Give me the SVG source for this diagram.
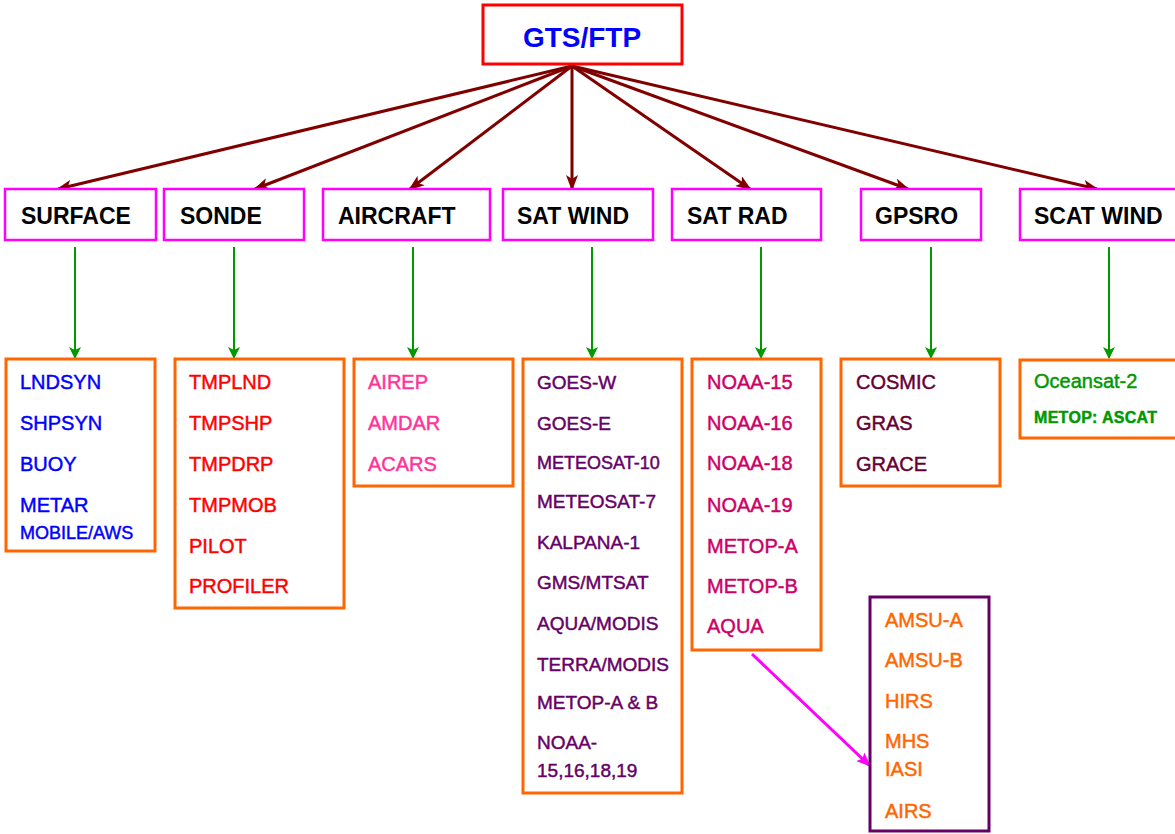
<svg xmlns="http://www.w3.org/2000/svg" width="1175" height="834" viewBox="0 0 1175 834">
<style>
text{font-family:"Liberation Sans",Arial,sans-serif}
.cat{fill:#fff;stroke:#FF00FF;stroke-width:2.5}
.lst{fill:#fff;stroke:#FF6600;stroke-width:3}
.ct{font-size:23px;font-weight:bold;fill:#000}
.it{font-size:20px}
.dr{stroke:#800000;stroke-width:3;fill:none;marker-end:url(#mr)}
.gr{stroke:#009900;stroke-width:2;fill:none;marker-end:url(#mg)}
.mg{stroke:#FF00FF;stroke-width:3;fill:none;marker-end:url(#mm)}
g.l text{stroke-width:0.45}
</style>
<defs>
<marker id="mr" markerUnits="userSpaceOnUse" markerWidth="16" markerHeight="12" refX="14" refY="6" orient="auto"><path d="M0,0 L16,6 L0,12 L4,6 Z" fill="#800000"/></marker>
<marker id="mg" markerUnits="userSpaceOnUse" markerWidth="12" markerHeight="12" refX="11" refY="6" orient="auto"><path d="M0,0 L12,6 L0,12 L3,6 Z" fill="#009900"/></marker>
<marker id="mm" markerUnits="userSpaceOnUse" markerWidth="14" markerHeight="12" refX="12" refY="6" orient="auto"><path d="M0,0 L14,6 L0,12 L3,6 Z" fill="#FF00FF"/></marker>
</defs>
<rect width="1175" height="834" fill="#fff"/>
<g id="connectors">
<line class="dr" x1="572" y1="66" x2="58" y2="189"/>
<line class="dr" x1="572" y1="66" x2="255" y2="189"/>
<line class="dr" x1="572" y1="66" x2="410" y2="189"/>
<line class="dr" x1="572" y1="66" x2="572" y2="189"/>
<line class="dr" x1="572" y1="66" x2="750" y2="189"/>
<line class="dr" x1="572" y1="66" x2="908" y2="189"/>
<line class="dr" x1="572" y1="66" x2="1097" y2="189"/>
<line class="gr" x1="75" y1="247" x2="75" y2="358"/>
<line class="gr" x1="234" y1="247" x2="234" y2="358"/>
<line class="gr" x1="413" y1="247" x2="413" y2="358"/>
<line class="gr" x1="592" y1="247" x2="592" y2="358"/>
<line class="gr" x1="761" y1="247" x2="761" y2="358"/>
<line class="gr" x1="931" y1="247" x2="931" y2="358"/>
<line class="gr" x1="1109" y1="247" x2="1109" y2="358"/>
<line class="mg" x1="752" y1="654" x2="869" y2="765"/>
</g>
<g id="gts">
<rect x="483" y="5" width="199" height="59" fill="#fff" stroke="#FF0000" stroke-width="3"/>
<text x="582" y="47" text-anchor="middle" font-size="28" font-weight="bold" fill="#0000FF">GTS/FTP</text>
</g>
<g id="surface"><rect class="cat" x="5" y="189" width="151" height="51"/><text class="ct" x="21" y="224">SURFACE</text></g>
<g id="sonde"><rect class="cat" x="164" y="189" width="140" height="51"/><text class="ct" x="180" y="224">SONDE</text></g>
<g id="aircraft"><rect class="cat" x="323" y="189" width="167" height="51"/><text class="ct" x="338" y="224">AIRCRAFT</text></g>
<g id="satwind"><rect class="cat" x="503" y="189" width="150" height="51"/><text class="ct" x="517" y="224">SAT WIND</text></g>
<g id="satrad"><rect class="cat" x="672" y="189" width="149" height="51"/><text class="ct" x="687" y="224">SAT RAD</text></g>
<g id="gpsro"><rect class="cat" x="861" y="189" width="120" height="51"/><text class="ct" x="875" y="224">GPSRO</text></g>
<g id="scatwind"><rect class="cat" x="1020" y="189" width="165" height="51"/><text class="ct" x="1034" y="224">SCAT WIND</text></g>
<g id="surface-list" class="l" fill="#0000FF" stroke="#0000FF">
<rect class="lst" x="6" y="359" width="149" height="192"/>
<text class="it" x="20" y="389">LNDSYN</text>
<text class="it" x="20" y="430">SHPSYN</text>
<text class="it" x="20" y="471">BUOY</text>
<text class="it" x="20" y="512">METAR</text>
<text x="20" y="539" font-size="18">MOBILE/AWS</text>
</g>
<g id="sonde-list" class="l" fill="#FF0000" stroke="#FF0000">
<rect class="lst" x="175" y="359" width="169" height="249"/>
<text class="it" x="189" y="389">TMPLND</text>
<text class="it" x="189" y="430">TMPSHP</text>
<text class="it" x="189" y="471">TMPDRP</text>
<text class="it" x="189" y="512">TMPMOB</text>
<text class="it" x="189" y="553">PILOT</text>
<text class="it" x="189" y="593">PROFILER</text>
</g>
<g id="aircraft-list" class="l" fill="#FF3399" stroke="#FF3399">
<rect class="lst" x="354" y="359" width="159" height="127"/>
<text class="it" x="368" y="389">AIREP</text>
<text class="it" x="368" y="430">AMDAR</text>
<text class="it" x="368" y="471">ACARS</text>
</g>
<g id="satwind-list" class="l" fill="#660066" stroke="#660066" font-size="19">
<rect class="lst" x="523" y="359" width="159" height="434"/>
<text x="537" y="389">GOES-W</text>
<text x="537" y="430">GOES-E</text>
<text x="537" y="469" font-size="18">METEOSAT-10</text>
<text x="537" y="508">METEOSAT-7</text>
<text x="537" y="549">KALPANA-1</text>
<text x="537" y="589">GMS/MTSAT</text>
<text x="537" y="630">AQUA/MODIS</text>
<text x="537" y="671">TERRA/MODIS</text>
<text x="537" y="709">METOP-A &amp; B</text>
<text x="537" y="749">NOAA-</text>
<text x="537" y="777">15,16,18,19</text>
</g>
<g id="satrad-list" class="l" fill="#CC0066" stroke="#CC0066">
<rect class="lst" x="692" y="359" width="129" height="291"/>
<text class="it" x="707" y="389">NOAA-15</text>
<text class="it" x="707" y="430">NOAA-16</text>
<text class="it" x="707" y="470">NOAA-18</text>
<text class="it" x="707" y="512">NOAA-19</text>
<text class="it" x="707" y="553">METOP-A</text>
<text class="it" x="707" y="593">METOP-B</text>
<text class="it" x="707" y="633">AQUA</text>
</g>
<g id="gpsro-list" class="l" fill="#660033" stroke="#660033">
<rect class="lst" x="841" y="359" width="159" height="127"/>
<text class="it" x="856" y="389">COSMIC</text>
<text class="it" x="856" y="430">GRAS</text>
<text class="it" x="856" y="471">GRACE</text>
</g>
<g id="scat-list" class="l" fill="#009900" stroke="#009900">
<rect class="lst" x="1020" y="360" width="165" height="78"/>
<text x="1034" y="388" font-size="20">Oceansat-2</text>
<text x="1034" y="423" font-size="16" font-weight="bold" letter-spacing="0.3" stroke-width="0">METOP: ASCAT</text>
</g>
<g id="instruments" class="l" fill="#FF6600" stroke="#FF6600">
<rect x="870" y="597" width="119" height="234" fill="#fff" stroke="#660066" stroke-width="3"/>
<text class="it" x="885" y="627">AMSU-A</text>
<text class="it" x="885" y="667">AMSU-B</text>
<text class="it" x="885" y="708">HIRS</text>
<text class="it" x="885" y="748">MHS</text>
<text class="it" x="885" y="776">IASI</text>
<text class="it" x="885" y="818">AIRS</text>
</g>
</svg>
